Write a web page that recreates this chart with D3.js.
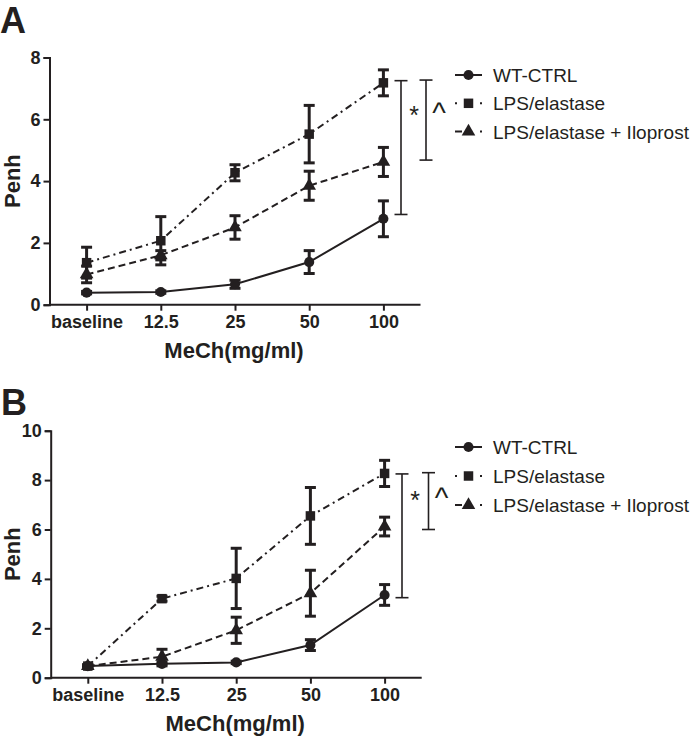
<!DOCTYPE html>
<html>
<head>
<meta charset="utf-8">
<script src="https://cdn.jsdelivr.net/npm/d3@7"></script>
<style>
  body { margin: 0; background: #fff; }
  text { font-family: "Liberation Sans", Arial, sans-serif; fill: #231f20; }
</style>
</head>
<body>
<svg id="chart"></svg>
<script>
const categories = ["baseline", "12.5", "25", "50", "100"];
const seriesNames = ["WT-CTRL", "LPS/elastase", "LPS/elastase + Iloprost"];

// panel A
const wtA = [0.39, 0.41, 0.66, 1.38, 2.78];
const wtAErr = [0.04, 0.04, 0.13, 0.37, 0.58];
const lpsA = [1.36, 2.07, 4.27, 5.52, 7.18];
const lpsAErr = [0.5, 0.78, 0.26, 0.93, 0.42];
const iloA = [0.98, 1.6, 2.5, 3.85, 4.62];
const iloAErr = [0.27, 0.15, 0.38, 0.47, 0.47];
const yTicksA = [0, 2, 4, 6, 8];
const sigA = [
  { label: "*", from: 7.25, to: 2.92, at: 6.3 },
  { label: "^", from: 7.27, to: 4.68, at: 6.37 }
];

// panel B
const wtB = [0.47, 0.56, 0.62, 1.32, 3.35];
const wtBErr = [0.05, 0.08, 0.05, 0.22, 0.42];
const lpsB = [0.47, 3.2, 4.02, 6.55, 8.27];
const lpsBErr = [0.05, 0.1, 1.22, 1.15, 0.53];
const iloB = [0.47, 0.85, 1.92, 3.42, 6.12];
const iloBErr = [0.05, 0.3, 0.53, 0.93, 0.38];
const yTicksB = [0, 2, 4, 6, 8, 10];
const sigB = [
  { label: "*", from: 8.25, to: 3.24, at: 7.4 },
  { label: "^", from: 8.3, to: 6.0, at: 7.47 }
];

const width = 694, height = 741;
const ink = "#231f20";
const dashes = [null, "7,4,2,4", "7,4"];
const legendDashes = [null, "2,23,2", "7,18,2"];
const symbols = [d3.symbolCircle, d3.symbolSquare, d3.symbolTriangle];
const symSizes = [80, 90, 80];

const svg = d3.select("#chart").attr("width", width).attr("height", height);

function drawPanel(opt) {
  const g = svg.append("g");

  const x = d3.scalePoint()
    .domain(categories)
    .range([opt.left, opt.right])
    .padding(0.5);

  const y = d3.scaleLinear()
    .domain([0, d3.max(opt.ticks)])
    .range([opt.bottom, opt.top]);

  // panel letter
  g.append("text")
    .attr("x", opt.letterX).attr("y", opt.letterY)
    .attr("font-size", 36).attr("font-weight", "bold")
    .text(opt.letter);

  // axes
  const xAxis = g.append("g")
    .attr("transform", `translate(0,${opt.bottom})`)
    .call(d3.axisBottom(x).tickSizeOuter(0).tickSize(6).tickPadding(5));
  xAxis.select(".domain").attr("d", `M${opt.left},0H${opt.right}`);

  const yAxis = g.append("g")
    .attr("transform", `translate(${opt.left},0)`)
    .call(d3.axisLeft(y).tickValues(opt.ticks).tickSizeOuter(0).tickSize(6).tickPadding(3));

  [xAxis, yAxis].forEach(a => {
    a.selectAll(".domain, line").attr("stroke", ink).attr("stroke-width", 2);
    a.selectAll("text")
      .attr("font-size", 18).attr("font-weight", "bold")
      .attr("font-family", "Liberation Sans, Arial, sans-serif")
      .attr("fill", ink);
  });

  // axis titles
  g.append("text")
    .attr("x", (opt.left + opt.right) / 2 - 1)
    .attr("y", opt.bottom + 53)
    .attr("text-anchor", "middle")
    .attr("font-size", 22).attr("font-weight", "bold")
    .text("MeCh(mg/ml)");

  g.append("text")
    .attr("transform", `translate(20,${(opt.top + opt.bottom) / 2}) rotate(-90)`)
    .attr("text-anchor", "middle")
    .attr("font-size", 22).attr("font-weight", "bold")
    .text("Penh");

  const line = d3.line()
    .x((d, i) => x(categories[i]))
    .y(d => y(d));

  // lines
  opt.series.forEach((s, k) => {
    g.append("path")
      .datum(s.values)
      .attr("d", line)
      .attr("fill", "none")
      .attr("stroke", ink)
      .attr("stroke-width", 2)
      .attr("stroke-dasharray", dashes[k]);
  });

  // error bars
  opt.series.forEach(s => {
    const eb = g.append("g").attr("stroke", ink).attr("stroke-width", 3);
    s.values.forEach((v, i) => {
      const cx = x(categories[i]);
      const y1 = y(v + s.err[i]), y2 = y(v - s.err[i]);
      eb.append("line").attr("x1", cx).attr("x2", cx).attr("y1", y1).attr("y2", y2);
      eb.append("line").attr("x1", cx - 5.5).attr("x2", cx + 5.5).attr("y1", y1).attr("y2", y1);
      eb.append("line").attr("x1", cx - 5.5).attr("x2", cx + 5.5).attr("y1", y2).attr("y2", y2);
    });
  });

  // markers
  opt.series.forEach((s, k) => {
    g.selectAll(null)
      .data(s.values)
      .enter()
      .append("path")
      .attr("d", d3.symbol().type(symbols[k]).size(symSizes[k]))
      .attr("transform", (d, i) => `translate(${x(categories[i])},${y(d)})`)
      .attr("fill", ink);
  });

  // significance brackets
  opt.sig.forEach((b, j) => {
    const bx = opt.sigX[j];
    const sg = g.append("g").attr("stroke", ink).attr("stroke-width", 1.6);
    sg.append("line").attr("x1", bx).attr("x2", bx).attr("y1", y(b.from)).attr("y2", y(b.to));
    sg.append("line").attr("x1", bx - 6.5).attr("x2", bx + 6.5).attr("y1", y(b.from)).attr("y2", y(b.from));
    sg.append("line").attr("x1", bx - 6.5).attr("x2", bx + 6.5).attr("y1", y(b.to)).attr("y2", y(b.to));
    const star = b.label === "*";
    g.append("text")
      .attr("x", bx + 13)
      .attr("y", y(b.at) + (star ? 14 : 15))
      .attr("text-anchor", "middle")
      .attr("font-size", star ? 25 : 29)
      .text(b.label);
  });

  // legend
  const leg = g.append("g");
  seriesNames.forEach((name, k) => {
    const ly = opt.legendY + k * opt.legendStep;
    leg.append("line")
      .attr("x1", 455).attr("x2", 482).attr("y1", ly).attr("y2", ly)
      .attr("stroke", ink).attr("stroke-width", 2)
      .attr("stroke-dasharray", legendDashes[k]);
    leg.append("path")
      .attr("d", d3.symbol().type(symbols[k]).size(symSizes[k]))
      .attr("transform", `translate(468.5,${ly})`)
      .attr("fill", ink);
    leg.append("text")
      .attr("x", 493).attr("y", ly + 7)
      .attr("font-size", 19)
      .text(name);
  });
}

drawPanel({
  letter: "A", letterX: 0, letterY: 33,
  left: 49.5, right: 420.5, top: 57.5, bottom: 304.7,
  ticks: yTicksA,
  series: [
    { values: wtA, err: wtAErr },
    { values: lpsA, err: lpsAErr },
    { values: iloA, err: iloAErr }
  ],
  sig: sigA, sigX: [401, 426],
  legendY: 75, legendStep: 28.3
});

drawPanel({
  letter: "B", letterX: 1, letterY: 415,
  left: 50.7, right: 421.7, top: 430.7, bottom: 677.7,
  ticks: yTicksB,
  series: [
    { values: wtB, err: wtBErr },
    { values: lpsB, err: lpsBErr },
    { values: iloB, err: iloBErr }
  ],
  sig: sigB, sigX: [402, 428.5],
  legendY: 447, legendStep: 29
});
</script>
</body>
</html>
